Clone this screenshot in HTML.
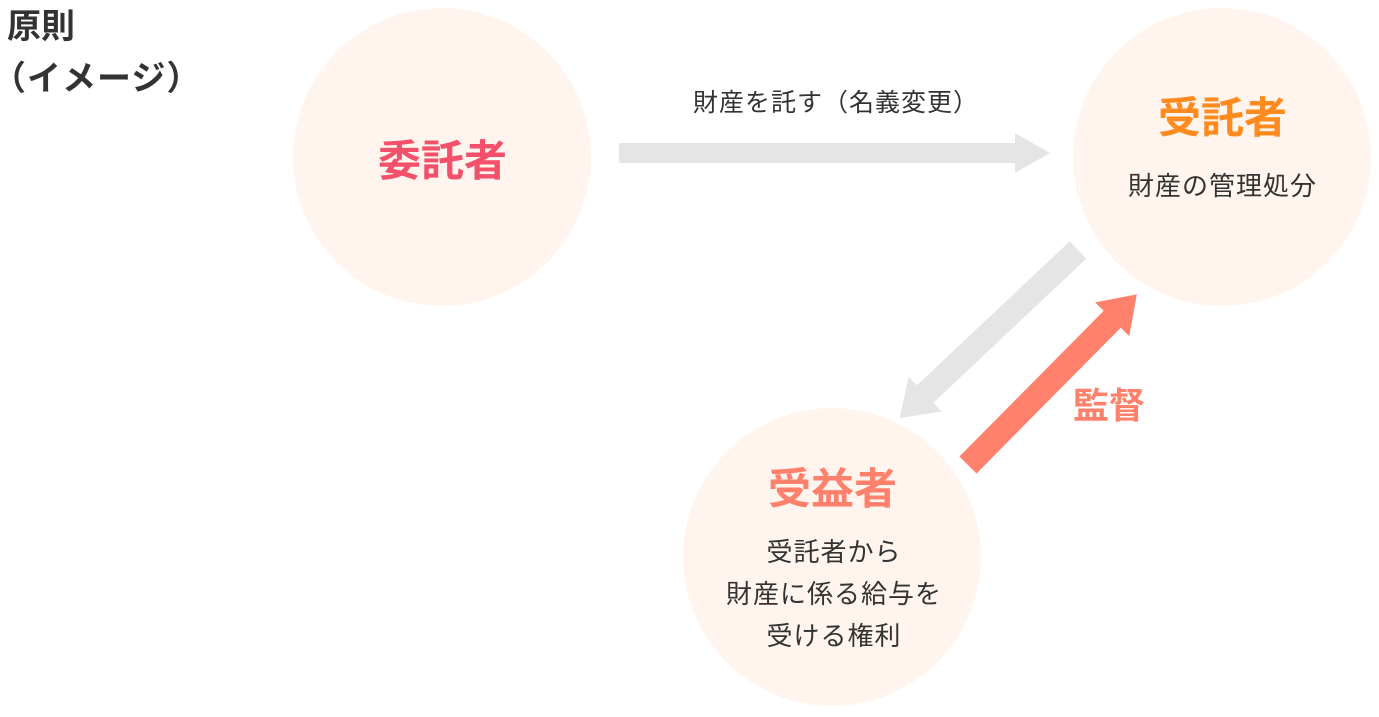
<!DOCTYPE html>
<html><head><meta charset="utf-8"><style>
body{margin:0;width:1379px;height:717px;background:#fff;overflow:hidden;font-family:"Liberation Sans","Noto Sans CJK JP",sans-serif;position:relative}
.t{position:absolute;white-space:nowrap;line-height:1}
</style></head><body>
<svg width="1379" height="717" style="position:absolute;left:0;top:0">
<circle cx="442" cy="157" r="149" fill="#fff5ee"/>
<circle cx="1222" cy="157" r="149" fill="#fff5ee"/>
<circle cx="832" cy="557" r="149" fill="#fff5ee"/>
<polygon points="619,143 1015,143 1015,133 1050,153 1015,173 1015,163 619,163" fill="#e5e5e5"/>
<g transform="translate(1078,250) rotate(136.7)">
<polygon points="0,-12 210,-12 210,-24 245,0 210,24 210,12 0,12" fill="#e5e5e5"/>
</g>
<g transform="translate(968,465) rotate(-45.3)">
<polygon points="0,-12 205,-12 205,-24 240,0 205,24 205,12 0,12" fill="#ff806b"/>
</g>
</svg>
<div class="t" style="left:7px;top:10px;font-size:34px;font-weight:bold;color:#333">原則</div>
<div class="t" style="left:-8px;top:62px;font-size:34px;font-weight:bold;color:#333;letter-spacing:1px">（イメージ）</div>
<div class="t" style="left:378px;top:141px;font-size:43px;font-weight:bold;color:#f2506b">委託者</div>
<div class="t" style="left:1158px;top:98px;font-size:43px;font-weight:bold;color:#ff8a1e">受託者</div>
<div class="t" style="left:1128px;top:173px;font-size:26px;letter-spacing:1px;color:#333">財産の管理処分</div>
<div class="t" style="left:693px;top:91px;font-size:25px;letter-spacing:1px;color:#333">財産を託す（名義変更）</div>
<div class="t" style="left:1073px;top:388px;font-size:36px;font-weight:bold;color:#ff806b">監督</div>
<div class="t" style="left:768px;top:469px;font-size:43px;font-weight:bold;color:#ff806b">受益者</div>
<div class="t" style="left:712px;top:531px;width:244px;text-align:center;font-size:26px;letter-spacing:1px;line-height:42px;color:#333">受託者から<br>財産に係る給与を<br>受ける権利</div>
</body></html>
